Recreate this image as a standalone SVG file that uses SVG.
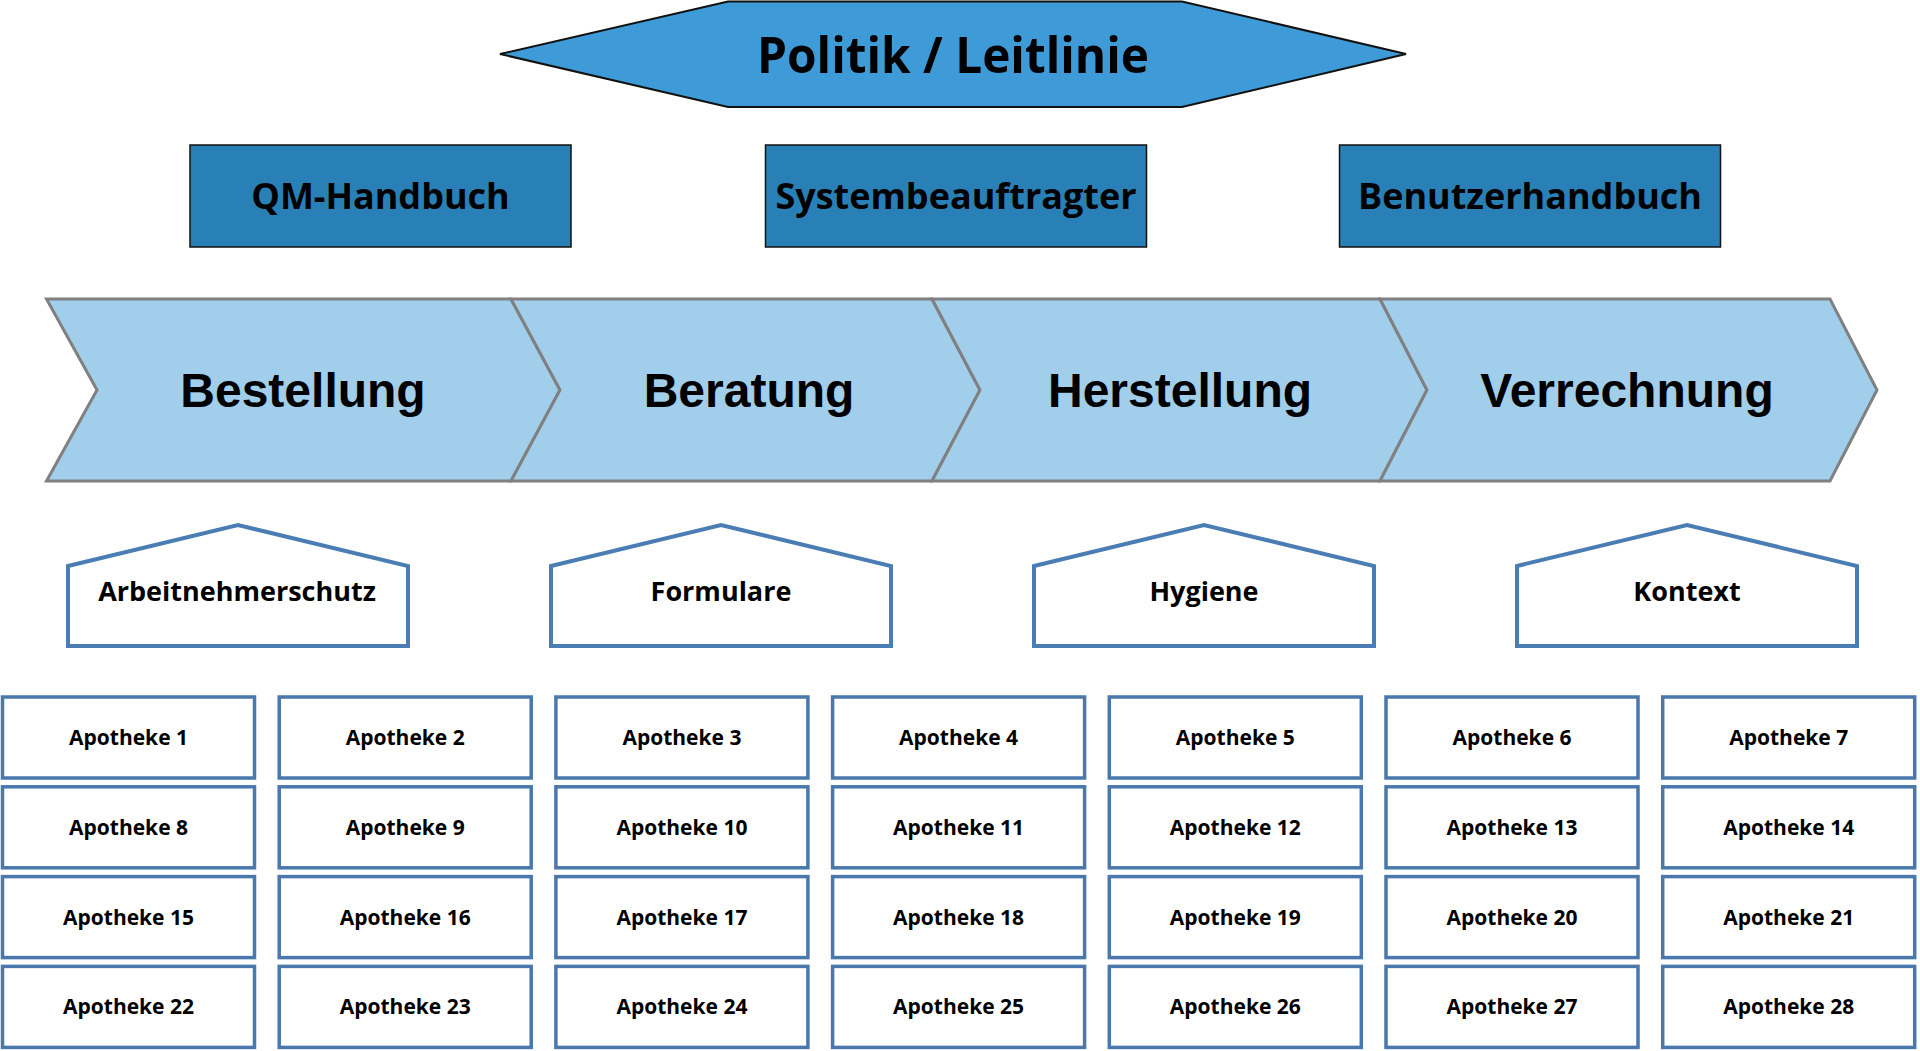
<svg xmlns="http://www.w3.org/2000/svg" width="1920" height="1051" viewBox="0 0 1920 1051">
<style>
.hex{fill:#3F9BD7;stroke:#111;stroke-width:2}
.top{fill:#2980B6;stroke:#111;stroke-width:1.5}
.chev{fill:#A0CEEB;stroke:#808080;stroke-width:3;stroke-linejoin:miter}
.house{fill:#fff;stroke:#4A7DB4;stroke-width:4}
.apo{fill:#fff;stroke:#4A78AC;stroke-width:3.5}
.t1{font-family:"Open Sans","Noto Sans",sans-serif;font-weight:700;fill:#000;text-anchor:middle}
.t2{font-family:"Liberation Sans",Arial,sans-serif;font-weight:700;fill:#000;text-anchor:middle}
</style>
<rect width="1920" height="1051" fill="#fff"/>
<g id="politik">
<polygon class="hex" points="500,54 728,1.5 1182,1.5 1406,54 1182,107 728,107"/>
<text class="t1" x="953" y="73" font-size="50" textLength="392" lengthAdjust="spacingAndGlyphs">Politik / Leitlinie</text>
</g>
<g id="qm-handbuch">
<rect class="top" x="190" y="145" width="381" height="102"/>
<text class="t1" x="380.5" y="209" font-size="36">QM-Handbuch</text>
</g>
<g id="systembeauftragter">
<rect class="top" x="765.5" y="145" width="381" height="102"/>
<text class="t1" x="956" y="209" font-size="36">Systembeauftragter</text>
</g>
<g id="benutzerhandbuch">
<rect class="top" x="1339.5" y="145" width="381" height="102"/>
<text class="t1" x="1530" y="209" font-size="36">Benutzerhandbuch</text>
</g>
<g id="bestellung">
<polygon class="chev" points="46.5,299 511,299 560,390 511,481 46.5,481 97,390"/>
<text class="t2" x="303" y="407" font-size="48">Bestellung</text>
</g>
<g id="beratung">
<polygon class="chev" points="511,299 932,299 980,390 932,481 511,481 560,390"/>
<text class="t2" x="749" y="407" font-size="48">Beratung</text>
</g>
<g id="herstellung">
<polygon class="chev" points="932,299 1380,299 1427,390 1380,481 932,481 980,390"/>
<text class="t2" x="1180" y="407" font-size="48">Herstellung</text>
</g>
<g id="verrechnung">
<polygon class="chev" points="1380,299 1830,299 1877,390 1830,481 1380,481 1427,390"/>
<text class="t2" x="1627" y="407" font-size="48">Verrechnung</text>
</g>
<g id="arbeitnehmerschutz">
<polygon class="house" points="68,566 238,525 408,566 408,646 68,646"/>
<text class="t1" x="237" y="601" font-size="27">Arbeitnehmerschutz</text>
</g>
<g id="formulare">
<polygon class="house" points="551,566 721,525 891,566 891,646 551,646"/>
<text class="t1" x="721" y="601" font-size="27">Formulare</text>
</g>
<g id="hygiene">
<polygon class="house" points="1034,566 1204,525 1374,566 1374,646 1034,646"/>
<text class="t1" x="1204" y="601" font-size="27">Hygiene</text>
</g>
<g id="kontext">
<polygon class="house" points="1517,566 1687,525 1857,566 1857,646 1517,646"/>
<text class="t1" x="1687" y="601" font-size="27">Kontext</text>
</g>
<g id="apotheken">
<g id="apo1"><rect class="apo" x="2.5" y="697" width="252" height="81"/><text class="t1" x="128.5" y="745" font-size="21">Apotheke 1</text></g>
<g id="apo2"><rect class="apo" x="279.2" y="697" width="252" height="81"/><text class="t1" x="405.2" y="745" font-size="21">Apotheke 2</text></g>
<g id="apo3"><rect class="apo" x="555.9" y="697" width="252" height="81"/><text class="t1" x="681.9" y="745" font-size="21">Apotheke 3</text></g>
<g id="apo4"><rect class="apo" x="832.6" y="697" width="252" height="81"/><text class="t1" x="958.6" y="745" font-size="21">Apotheke 4</text></g>
<g id="apo5"><rect class="apo" x="1109.3" y="697" width="252" height="81"/><text class="t1" x="1235.3" y="745" font-size="21">Apotheke 5</text></g>
<g id="apo6"><rect class="apo" x="1386" y="697" width="252" height="81"/><text class="t1" x="1512" y="745" font-size="21">Apotheke 6</text></g>
<g id="apo7"><rect class="apo" x="1662.7" y="697" width="252" height="81"/><text class="t1" x="1788.7" y="745" font-size="21">Apotheke 7</text></g>
<g id="apo8"><rect class="apo" x="2.5" y="786.8" width="252" height="81"/><text class="t1" x="128.5" y="834.8" font-size="21">Apotheke 8</text></g>
<g id="apo9"><rect class="apo" x="279.2" y="786.8" width="252" height="81"/><text class="t1" x="405.2" y="834.8" font-size="21">Apotheke 9</text></g>
<g id="apo10"><rect class="apo" x="555.9" y="786.8" width="252" height="81"/><text class="t1" x="681.9" y="834.8" font-size="21">Apotheke 10</text></g>
<g id="apo11"><rect class="apo" x="832.6" y="786.8" width="252" height="81"/><text class="t1" x="958.6" y="834.8" font-size="21">Apotheke 11</text></g>
<g id="apo12"><rect class="apo" x="1109.3" y="786.8" width="252" height="81"/><text class="t1" x="1235.3" y="834.8" font-size="21">Apotheke 12</text></g>
<g id="apo13"><rect class="apo" x="1386" y="786.8" width="252" height="81"/><text class="t1" x="1512" y="834.8" font-size="21">Apotheke 13</text></g>
<g id="apo14"><rect class="apo" x="1662.7" y="786.8" width="252" height="81"/><text class="t1" x="1788.7" y="834.8" font-size="21">Apotheke 14</text></g>
<g id="apo15"><rect class="apo" x="2.5" y="876.6" width="252" height="81"/><text class="t1" x="128.5" y="924.6" font-size="21">Apotheke 15</text></g>
<g id="apo16"><rect class="apo" x="279.2" y="876.6" width="252" height="81"/><text class="t1" x="405.2" y="924.6" font-size="21">Apotheke 16</text></g>
<g id="apo17"><rect class="apo" x="555.9" y="876.6" width="252" height="81"/><text class="t1" x="681.9" y="924.6" font-size="21">Apotheke 17</text></g>
<g id="apo18"><rect class="apo" x="832.6" y="876.6" width="252" height="81"/><text class="t1" x="958.6" y="924.6" font-size="21">Apotheke 18</text></g>
<g id="apo19"><rect class="apo" x="1109.3" y="876.6" width="252" height="81"/><text class="t1" x="1235.3" y="924.6" font-size="21">Apotheke 19</text></g>
<g id="apo20"><rect class="apo" x="1386" y="876.6" width="252" height="81"/><text class="t1" x="1512" y="924.6" font-size="21">Apotheke 20</text></g>
<g id="apo21"><rect class="apo" x="1662.7" y="876.6" width="252" height="81"/><text class="t1" x="1788.7" y="924.6" font-size="21">Apotheke 21</text></g>
<g id="apo22"><rect class="apo" x="2.5" y="966.4" width="252" height="81"/><text class="t1" x="128.5" y="1014.4" font-size="21">Apotheke 22</text></g>
<g id="apo23"><rect class="apo" x="279.2" y="966.4" width="252" height="81"/><text class="t1" x="405.2" y="1014.4" font-size="21">Apotheke 23</text></g>
<g id="apo24"><rect class="apo" x="555.9" y="966.4" width="252" height="81"/><text class="t1" x="681.9" y="1014.4" font-size="21">Apotheke 24</text></g>
<g id="apo25"><rect class="apo" x="832.6" y="966.4" width="252" height="81"/><text class="t1" x="958.6" y="1014.4" font-size="21">Apotheke 25</text></g>
<g id="apo26"><rect class="apo" x="1109.3" y="966.4" width="252" height="81"/><text class="t1" x="1235.3" y="1014.4" font-size="21">Apotheke 26</text></g>
<g id="apo27"><rect class="apo" x="1386" y="966.4" width="252" height="81"/><text class="t1" x="1512" y="1014.4" font-size="21">Apotheke 27</text></g>
<g id="apo28"><rect class="apo" x="1662.7" y="966.4" width="252" height="81"/><text class="t1" x="1788.7" y="1014.4" font-size="21">Apotheke 28</text></g>
</g>
<g id="connectors"/>
</svg>
